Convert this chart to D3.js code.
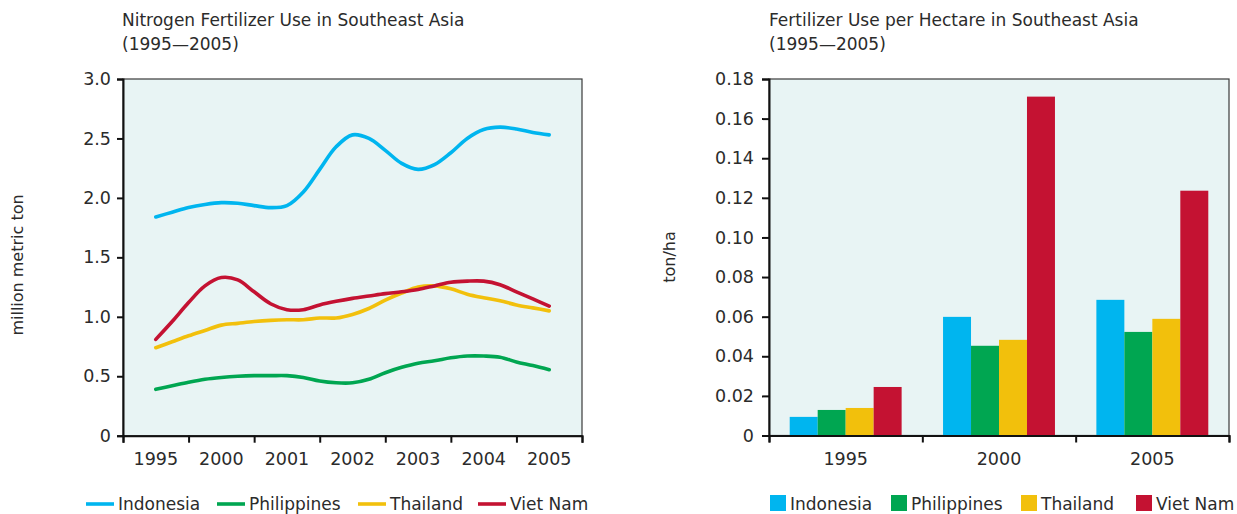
<!DOCTYPE html>
<html>
<head>
<meta charset="utf-8">
<script src="https://cdn.jsdelivr.net/npm/d3@7"></script>
<style>
  html, body { margin: 0; padding: 0; background: #ffffff; }
  svg { display: block; }
  text { font-family: "DejaVu Sans", sans-serif; fill: #2b2b2b; }
</style>
</head>
<body>
<svg id="chart" width="1237" height="514"></svg>
<script>
// ---------- DATA ----------
const countries = ["Indonesia", "Philippines", "Thailand", "Viet Nam"];
const colors = ["#00b5ef", "#00a651", "#f2c00c", "#c41232"];

// Line chart: categories on the x axis
const lineYears = ["1995", "2000", "2001", "2002", "2003", "2004", "2005"];
// sample positions along the category axis (category index, quarter steps)
const samplePos = [0, 0.25, 0.5, 0.75, 1, 1.25, 1.5, 1.75, 2, 2.25, 2.5, 2.75, 3,
                   3.25, 3.5, 3.75, 4, 4.25, 4.5, 4.75, 5, 5.25, 5.5, 5.75, 6];
const indonesiaN   = [1.84, 1.88, 1.92, 1.945, 1.96, 1.955, 1.935, 1.918, 1.935, 2.05, 2.24, 2.43, 2.53,
                      2.50, 2.40, 2.29, 2.24, 2.28, 2.38, 2.50, 2.575, 2.595, 2.58, 2.55, 2.53];
const philippinesN = [0.39, 0.42, 0.45, 0.475, 0.49, 0.50, 0.505, 0.505, 0.505, 0.49, 0.46, 0.445, 0.445,
                      0.475, 0.53, 0.575, 0.61, 0.63, 0.655, 0.67, 0.67, 0.66, 0.62, 0.59, 0.555];
const thailandN    = [0.74, 0.79, 0.84, 0.885, 0.93, 0.945, 0.96, 0.97, 0.975, 0.975, 0.99, 0.99, 1.02,
                      1.07, 1.14, 1.20, 1.25, 1.26, 1.235, 1.19, 1.16, 1.135, 1.10, 1.075, 1.05];
const vietnamN     = [0.81, 0.96, 1.12, 1.26, 1.33, 1.31, 1.21, 1.11, 1.06, 1.06, 1.10, 1.13, 1.155,
                      1.175, 1.195, 1.21, 1.23, 1.26, 1.29, 1.30, 1.30, 1.27, 1.21, 1.15, 1.09];
const lineTicks = [0, 0.5, 1.0, 1.5, 2.0, 2.5, 3.0];
const lineTickLabels = ["0", "0.5", "1.0", "1.5", "2.0", "2.5", "3.0"];

// Bar chart
const barYears = ["1995", "2000", "2005"];
const indonesiaH   = [0.0094, 0.0599, 0.0685];
const philippinesH = [0.0129, 0.0453, 0.0523];
const thailandH    = [0.0139, 0.0483, 0.0589];
const vietnamH     = [0.0245, 0.1711, 0.1236];
const barTicks = [0, 0.02, 0.04, 0.06, 0.08, 0.10, 0.12, 0.14, 0.16, 0.18];
const barTickLabels = ["0", "0.02", "0.04", "0.06", "0.08", "0.10", "0.12", "0.14", "0.16", "0.18"];

const lineSeries = [indonesiaN, philippinesN, thailandN, vietnamN];
const barSeries = [indonesiaH, philippinesH, thailandH, vietnamH];

// ---------- DRAW ----------
const svg = d3.select("#chart");
const BG = "#e8f4f4";
const FS = 17.5;

// ===== LINE CHART =====
const L = { left: 123, right: 582, top: 79, bottom: 435.7 };
const gL = svg.append("g");

gL.append("rect").attr("x", L.left).attr("y", L.top)
  .attr("width", L.right - L.left).attr("height", L.bottom - L.top)
  .attr("fill", BG).attr("stroke", "#3a3a3a").attr("stroke-width", 1.2);

const xBandL = d3.scaleBand().domain(lineYears).range([L.left, L.right]).padding(0);
const xPosL = d3.scaleLinear().domain([-0.5, lineYears.length - 0.5]).range([L.left, L.right]);
const yL = d3.scaleLinear().domain([0, 3]).range([L.bottom, L.top]);

const lineGen = d3.line()
  .x(d => xPosL(d[0])).y(d => yL(d[1]))
  .curve(d3.curveCatmullRom.alpha(0.5));

lineSeries.forEach((vals, i) => {
  gL.append("path")
    .datum(samplePos.map((p, k) => [p, vals[k]]))
    .attr("d", lineGen)
    .attr("fill", "none").attr("stroke", colors[i])
    .attr("stroke-width", 3.6).attr("stroke-linecap", "round").attr("stroke-linejoin", "round");
});

// Y axis
const yAxisL = gL.append("g").attr("transform", `translate(${L.left},0)`)
  .call(d3.axisLeft(yL).tickValues(lineTicks).tickFormat((d, i) => lineTickLabels[i]).tickSize(6).tickPadding(6));
// X axis: boundary ticks
const boundaries = d3.range(lineYears.length + 1).map(i => i - 0.5);
const xAxisL = gL.append("g").attr("transform", `translate(0,${L.bottom})`)
  .call(d3.axisBottom(xPosL).tickValues(boundaries).tickFormat("").tickSize(7));
const xLabL = gL.append("g").attr("transform", `translate(0,${L.bottom})`)
  .call(d3.axisBottom(xBandL).tickSize(0).tickPadding(17));
xLabL.select(".domain").remove();

[yAxisL, xAxisL, xLabL].forEach(a => {
  a.selectAll(".domain").attr("stroke", "#111").attr("stroke-width", 2);
  a.selectAll(".tick line").attr("stroke", "#111").attr("stroke-width", 2);
  a.selectAll("text").attr("font-size", FS).attr("font-family", "DejaVu Sans").attr("fill", "#2b2b2b");
});

// Title
gL.append("text").attr("x", 122).attr("y", 26).attr("font-size", 17).text("Nitrogen Fertilizer Use in Southeast Asia");
gL.append("text").attr("x", 122).attr("y", 50).attr("font-size", 17).text("(1995\u20142005)");
// Y label
gL.append("text").attr("transform", "translate(23,265) rotate(-90)")
  .attr("text-anchor", "middle").attr("font-size", 16).text("million metric ton");

// Legend (lines)
const legL = gL.append("g");
const legLX = [86, 217, 358, 478];
countries.forEach((c, i) => {
  legL.append("line").attr("x1", legLX[i]).attr("x2", legLX[i] + 28)
    .attr("y1", 504).attr("y2", 504).attr("stroke", colors[i]).attr("stroke-width", 3.6);
  legL.append("text").attr("x", legLX[i] + 32).attr("y", 504).attr("dy", "0.36em")
    .attr("font-size", 17).text(c);
});

// ===== BAR CHART =====
const B = { left: 769, right: 1229, top: 79, bottom: 435.5 };
const gB = svg.append("g");

gB.append("rect").attr("x", B.left).attr("y", B.top)
  .attr("width", B.right - B.left).attr("height", B.bottom - B.top)
  .attr("fill", BG).attr("stroke", "#3a3a3a").attr("stroke-width", 1.2);

const x0 = d3.scaleBand().domain(barYears).range([B.left, B.right]).padding(0);
const x1 = d3.scaleBand().domain(countries).range([0, x0.bandwidth()]).paddingInner(0).paddingOuter(0.74);
const yB = d3.scaleLinear().domain([0, 0.18]).range([B.bottom, B.top]);

barYears.forEach((yr, j) => {
  const g = gB.append("g").attr("transform", `translate(${x0(yr)},0)`);
  countries.forEach((c, i) => {
    const v = barSeries[i][j];
    g.append("rect")
      .attr("x", x1(c)).attr("width", x1.bandwidth())
      .attr("y", yB(v)).attr("height", yB(0) - yB(v))
      .attr("fill", colors[i]);
  });
});

const yAxisB = gB.append("g").attr("transform", `translate(${B.left},0)`)
  .call(d3.axisLeft(yB).tickValues(barTicks).tickFormat((d, i) => barTickLabels[i]).tickSize(7).tickPadding(8));
const bBound = [B.left, ...barYears.map(y => x0(y) + x0.bandwidth())];
const xPosB = d3.scaleLinear().domain([B.left, B.right]).range([B.left, B.right]);
const xAxisB = gB.append("g").attr("transform", `translate(0,${B.bottom})`)
  .call(d3.axisBottom(xPosB).tickValues(bBound).tickFormat("").tickSize(7));
const xLabB = gB.append("g").attr("transform", `translate(0,${B.bottom})`)
  .call(d3.axisBottom(x0).tickSize(0).tickPadding(17));
xLabB.select(".domain").remove();

[yAxisB, xAxisB, xLabB].forEach(a => {
  a.selectAll(".domain").attr("stroke", "#111").attr("stroke-width", 2);
  a.selectAll(".tick line").attr("stroke", "#111").attr("stroke-width", 2);
  a.selectAll("text").attr("font-size", FS).attr("font-family", "DejaVu Sans").attr("fill", "#2b2b2b");
});

gB.append("text").attr("x", 769).attr("y", 26).attr("font-size", 17).text("Fertilizer Use per Hectare in Southeast Asia");
gB.append("text").attr("x", 769).attr("y", 50).attr("font-size", 17).text("(1995\u20142005)");
gB.append("text").attr("transform", "translate(675,257) rotate(-90)")
  .attr("text-anchor", "middle").attr("font-size", 16).text("ton/ha");

const legBX = [770, 891, 1021, 1136];
countries.forEach((c, i) => {
  gB.append("rect").attr("x", legBX[i]).attr("y", 495).attr("width", 16).attr("height", 16).attr("fill", colors[i]);
  gB.append("text").attr("x", legBX[i] + 20).attr("y", 504).attr("dy", "0.36em")
    .attr("font-size", 17).text(c);
});
</script>
</body>
</html>
